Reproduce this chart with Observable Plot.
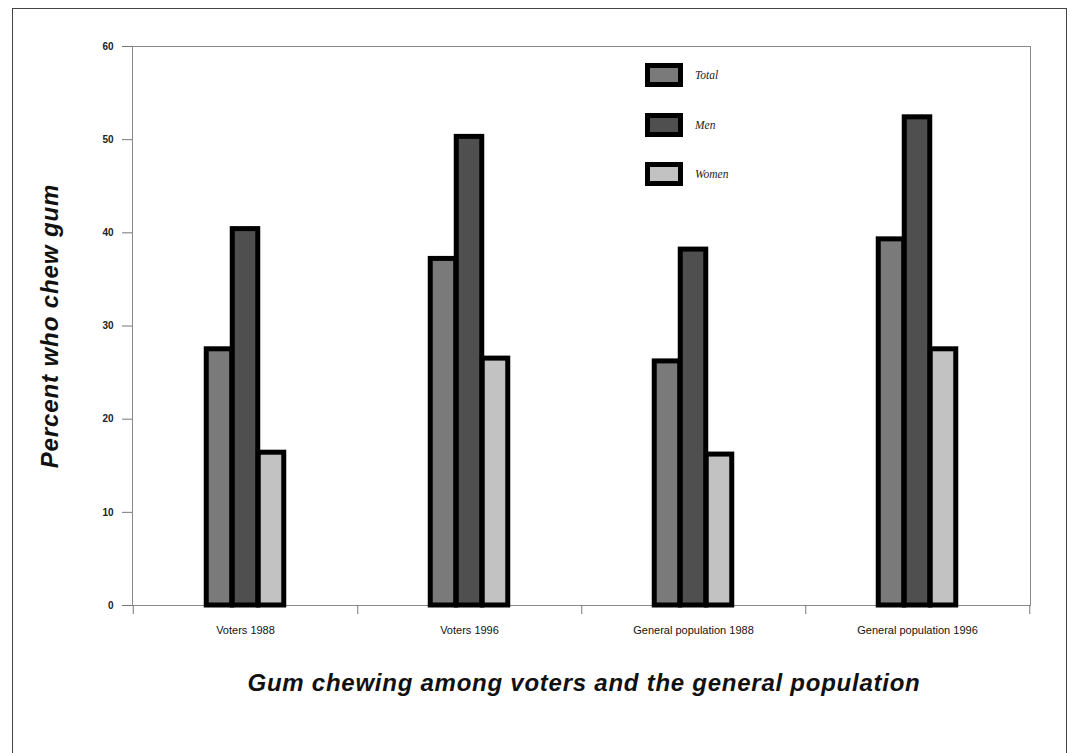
<!DOCTYPE html>
<html><head><meta charset="utf-8">
<script src="https://cdn.jsdelivr.net/npm/d3@7"></script>
<script src="https://cdn.jsdelivr.net/npm/@observablehq/plot@0.6"></script>
<style>
body{margin:0;background:#fff;}
#wrap{position:relative;width:1070px;height:753px;overflow:hidden;background:#fff;font-family:"Liberation Sans",Arial,sans-serif;}
#chart{position:absolute;left:0;top:0;}
#border{position:absolute;left:12px;top:8px;width:1053px;height:800px;border:1.5px solid #444;pointer-events:none;}
#legend{position:absolute;left:645px;top:63px;}
.lrow{display:flex;align-items:center;height:24px;margin-bottom:25.5px;}
.sw{box-sizing:border-box;width:38px;height:24px;border:5px solid #000;display:inline-block;}
.lt{margin-left:12px;font:italic 11.5px "Liberation Serif",serif;color:#222;}
#title{position:absolute;left:132px;width:904px;top:669px;text-align:center;font:italic bold 24px "Liberation Sans",Arial,sans-serif;letter-spacing:0.75px;line-height:28px;color:#111;}
svg g[aria-label="y-axis label"] text{font:italic bold 24px "Liberation Sans",Arial,sans-serif;letter-spacing:0.9px;fill:#111;}
svg g[aria-label="y-axis tick label"] text{font-weight:bold;font-size:10px;fill:#222;}
svg g[aria-label="x-axis tick label"] text{font-size:11px;fill:#111;}
</style>
</head><body>
<div id="wrap">
  <div id="chart"></div>
  <div id="legend"></div>
  <div id="title">Gum chewing among voters and the general population</div>
  <div id="border"></div>
</div>
<script>
const categories = ["Voters 1988", "Voters 1996", "General population 1988", "General population 1996"];
const seriesNames = ["Total", "Men", "Women"];
const total = [27.5, 37.2, 26.2, 39.3];
const men = [40.4, 50.3, 38.2, 52.4];
const women = [16.4, 26.5, 16.2, 27.5];
const yTicks = [0, 10, 20, 30, 40, 50, 60];
const colors = ["#7a7a7a", "#4f4f4f", "#c2c2c2"];
const yLabel = "Percent who chew gum";

const seriesValues = [total, men, women];
const W = 1070, H = 650, mL = 132, mR = 40, mT = 46, mB = 45;
const step = (W - mL - mR) / categories.length;
const barW = 26;
const inset = (step - barW) / 2;

const marks = [Plot.frame({stroke: "#8a8a8a"})];
seriesNames.forEach((s, i) => {
  const rows = categories.map((c, j) => ({category: c, series: s, value: seriesValues[i][j]}));
  marks.push(Plot.barY(rows, {
    x: "category", y: "value", fill: "series",
    stroke: "#000", strokeWidth: 5,
    insetLeft: inset, insetRight: inset, dx: (i - 1) * barW
  }));
});
marks.push(
  Plot.axisY({ticks: yTicks, tickSize: 10, tickPadding: 9, stroke: "#777",
    label: yLabel, labelAnchor: "center", labelArrow: false, labelOffset: 92}),
  Plot.axisX({tickSize: 0, tickPadding: 21, label: null}),
  Plot.axisX({tickSize: 9, dx: step / 2, stroke: "#777", tickFormat: () => "", label: null}),
  Plot.axisX({ticks: [categories[0]], tickSize: 9, dx: -step / 2, stroke: "#777", tickFormat: () => "", label: null})
);

const plot = Plot.plot({
  width: W, height: H,
  marginLeft: mL, marginRight: mR, marginTop: mT, marginBottom: mB,
  style: {fontFamily: '"Liberation Sans", Arial, sans-serif', fontSize: "10px", background: "transparent", color: "#222"},
  x: {domain: categories, padding: 0},
  y: {domain: [0, 60]},
  color: {domain: seriesNames, range: colors},
  marks
});
document.getElementById("chart").appendChild(plot);

const legend = document.getElementById("legend");
seriesNames.forEach((s, i) => {
  const row = document.createElement("div");
  row.className = "lrow";
  const sw = document.createElement("span");
  sw.className = "sw";
  sw.style.background = colors[i];
  const t = document.createElement("span");
  t.className = "lt";
  t.textContent = s;
  row.appendChild(sw); row.appendChild(t);
  legend.appendChild(row);
});
</script>
</body></html>
